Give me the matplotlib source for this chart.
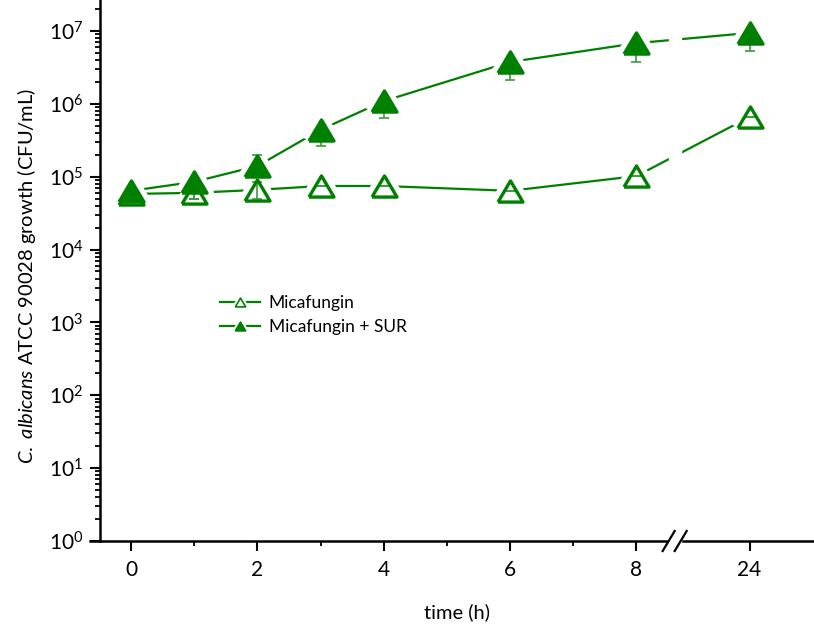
import numpy as np
import matplotlib
matplotlib.use("Agg")
from matplotlib import pyplot as plt
from matplotlib.lines import Line2D
from matplotlib.transforms import blended_transform_factory

plt.rcParams['font.family'] = ['Lato', 'DejaVu Sans']
plt.rcParams['mathtext.fontset'] = 'custom'
plt.rcParams['mathtext.rm'] = 'Lato'
plt.rcParams['mathtext.it'] = 'Lato:italic'
plt.rcParams['mathtext.default'] = 'regular'

# dane
vreme = [0, 1, 2, 3, 4, 6, 8, 24]
oznake_x = ['0', '2', '4', '6', '8', '24']
mica = [5.8e4, 6.0e4, 6.6e4, 7.45e4, 7.45e4, 6.4e4, 1.02e5, 6.6e5]
mica_dole = [0, 1.0e4, 1.6e4, 0, 0, 0, 0, 0]
mica_gore = [0, 1.0e4, 1.9e4, 0, 0, 0, 0, 0]
mica_sur = [6.4e4, 8.5e4, 1.4e5, 4.4e5, 1.09e6, 3.75e6, 6.8e6, 9.4e6]
sur_dole = [0, 3.5e4, 0, 1.8e5, 4.5e5, 1.6e6, 3.0e6, 4.1e6]
sur_gore = [0, 0, 5.9e4, 0, 0, 0, 0, 0]

# pozicija 24h posle preloma ose
pozicije = [0, 1, 2, 3, 4, 6, 8, 9.79]
pozicije_tick = [0, 2, 4, 6, 8, 9.79]

zelena = '#008000'
trougao = [(-1, -0.846), (1, -0.846), (0, 0.846), (-1, -0.846)]

fig = plt.figure(figsize=(8.14, 6.28), dpi=100)
ax = fig.add_axes([90/814, 1 - 541/628, 724/814, 541/628])

for y, dole, gore, fc in [(mica, mica_dole, mica_gore, 'none'),
                          (mica_sur, sur_dole, sur_gore, zelena)]:
    ax.plot(pozicije, y, color=zelena, lw=1.6, zorder=2)
    ax.plot(pozicije, y, ls='none', marker=trougao, ms=18, mfc='white',
            mec='white', mew=10, zorder=2.1)

for y, dole, gore, fc in [(mica, mica_dole, mica_gore, 'none'),
                          (mica_sur, sur_dole, sur_gore, zelena)]:
    ax.errorbar(pozicije, y, yerr=[dole, gore], fmt='none', ecolor='#3c9a3c',
                elinewidth=1.2, capsize=3.5, capthick=1.2, zorder=2.2)
    ax.plot(pozicije, y, ls='none', marker=trougao, ms=18, mfc=fc,
            mec=zelena, mew=2.4, zorder=3)

ax.set_yscale('log')
ax.set_ylim(1, 10**7.425)
ax.set_xlim(-0.649, 10.81)
ax.set_xticks(pozicije_tick)
ax.set_xticklabels(oznake_x)
ax.set_xticks([1, 3, 5, 7], minor=True)
ax.set_yticks([10**k for k in range(8)])

ax.spines['top'].set_visible(False)
ax.spines['right'].set_visible(False)
ax.spines['left'].set_position(('data', -0.49))
for s in ['left', 'bottom']:
    ax.spines[s].set_linewidth(1.8)

ax.tick_params(which='major', length=7, width=1.5, labelsize=15, pad=5)
ax.tick_params(which='minor', length=3.5, width=1.3)
ax.tick_params(axis='x', which='major', pad=7)

# prelom ose
ax.axvspan(8.51, 8.70, ymin=-0.01, ymax=1, color='white', zorder=2.6, clip_on=False)
tr = blended_transform_factory(ax.transData, ax.transAxes)
for cx in [8.51, 8.70]:
    ax.plot([cx - 0.095, cx + 0.095], [-0.0185, 0.0185], color='black', lw=1.6,
            transform=tr, clip_on=False, zorder=4)

ax.set_xlabel('time (h)', fontsize=14.5)
ax.xaxis.set_label_coords((457 - 90)/724, -(612 - 541)/541)
ax.xaxis.label.set_va('center')
ax.set_ylabel(r'$\mathit{C.\ albicans}$ ATCC 90028 growth (CFU/mL)', fontsize=14.5)
ax.yaxis.set_label_coords((38 - 90)/724, (541 - 276)/541)

def rucka(fc):
    linija = Line2D([], [], color=zelena, lw=1.6)
    halo = Line2D([], [], ls='none', marker=trougao, ms=7.5, mfc='white', mec='white', mew=4)
    marker = Line2D([], [], ls='none', marker=trougao, ms=7.5, mfc=fc, mec=zelena, mew=1.2)
    return (linija, halo, marker)

fig.legend([rucka('none'), rucka(zelena)], ['Micafungin', 'Micafungin + SUR'],
           loc='upper left', bbox_to_anchor=(220/814, 1 - 295/628), frameon=False,
           fontsize=12.5, handlelength=2.3, handletextpad=0.5, labelspacing=0.45,
           borderpad=0, borderaxespad=0)

fig.savefig('out.png', dpi=100)
